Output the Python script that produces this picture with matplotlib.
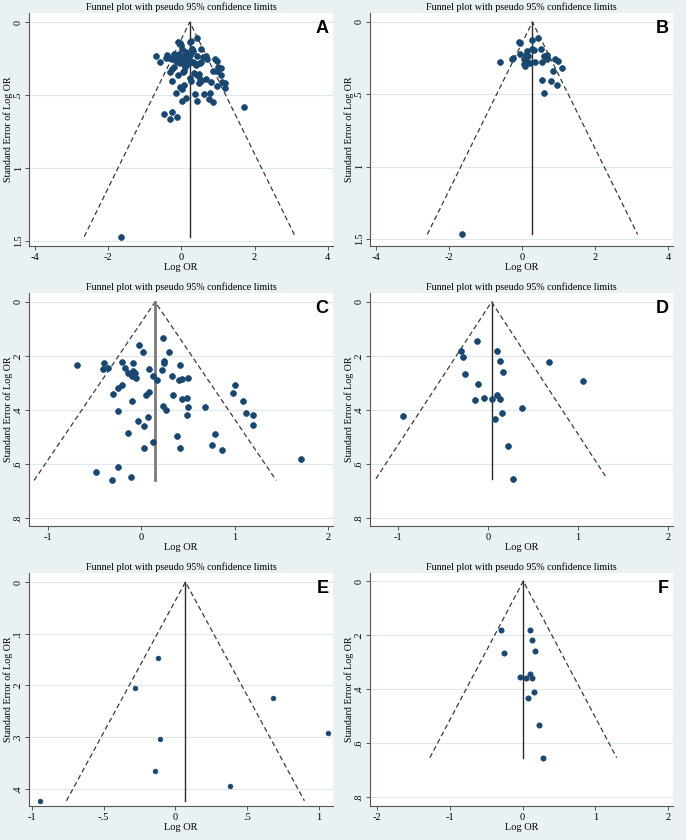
import numpy as np
import matplotlib
matplotlib.use('Agg')
import matplotlib.pyplot as plt

# ---- data ----
# B: subgroup 1
b_logor = [0.44, 0.27, -0.09, -0.04, 0.53, 0.28, 0.33, 0.13, -0.06, 0.10, 0.16, 0.60, 0.68,
           0.70, -0.23, -0.26, 0.07, 0.54, -0.59, 0.92, 0.98, 0.07, 0.09, 0.21, 0.14, 0.35,
           1.09, 0.86, 0.54, 0.81, 0.96, 0.61, -1.64]
b_se = [0.11, 0.127, 0.14, 0.145, 0.186, 0.186, 0.195, 0.204, 0.22, 0.227, 0.237, 0.237, 0.23,
        0.255, 0.248, 0.255, 0.255, 0.276, 0.276, 0.253, 0.269, 0.29, 0.305, 0.283, 0.276, 0.28,
        0.317, 0.338, 0.404, 0.41, 0.436, 0.494, 1.47]

# C: subgroup 2
c_logor = [-0.69, -0.40, -0.41, -0.35, -0.20, -0.17, -0.14, -0.10, -0.09, -0.09, -0.07, -0.05,
           -0.02, 0.02, 0.08, 0.13, 0.17, 0.23, 0.30, 0.22, 0.24, 0.24, 0.33, 0.42, 0.41, 0.44,
           0.50, -0.30, -0.25, -0.20, 0.08, 0.05, 0.34, -0.10, 0.44, 0.49, 0.50, 0.23, 0.27,
           -0.25, 0.68, 0.07, 0.49, -0.03, 0.03, -0.14, 0.38, 0.13, 0.03, 0.42, 0.79, 0.76,
           0.87, 0.98, 1.01, 1.09, 1.12, 1.20, 1.20, 1.71, -0.48, -0.25, -0.31, -0.11]
c_se = [0.233, 0.227, 0.249, 0.246, 0.221, 0.246, 0.265, 0.275, 0.227, 0.256, 0.262, 0.283,
        0.16, 0.186, 0.249, 0.276, 0.29, 0.134, 0.186, 0.252, 0.225, 0.219, 0.273, 0.233, 0.291,
        0.285, 0.283, 0.34, 0.319, 0.308, 0.332, 0.345, 0.346, 0.366, 0.361, 0.355, 0.391, 0.386,
        0.402, 0.403, 0.389, 0.428, 0.42, 0.442, 0.458, 0.484, 0.496, 0.518, 0.542, 0.54, 0.488,
        0.53, 0.549, 0.338, 0.308, 0.366, 0.41, 0.418, 0.455, 0.582, 0.63, 0.613, 0.661, 0.647]

# E: subgroup 3
e_logor = [-0.12, -0.28, 0.68, 1.06, -0.11, -0.14, 0.38, -0.94]
e_se = [0.146, 0.204, 0.224, 0.292, 0.303, 0.365, 0.394, 0.423]

# F: subgroup 4
f_logor = [-0.30, 0.10, 0.13, 0.17, -0.26, 0.10, -0.04, 0.05, 0.13, 0.16, 0.08, 0.22, 0.28]
f_se = [0.182, 0.182, 0.218, 0.261, 0.266, 0.343, 0.355, 0.358, 0.359, 0.413, 0.432, 0.533, 0.655]

# pooled estimates (vertical line positions)
pooled = {'A': 0.23, 'B': 0.29, 'C': 0.15, 'D': 0.04, 'E': 0.07, 'F': 0.01}

navy = '#1a476f'
bg = '#e9f1f3'
grid_c = '#dce8ec'
serif = ['Liberation Serif', 'DejaVu Serif']

fig = plt.figure(figsize=(6.86, 8.4), dpi=100)
fig.patch.set_facecolor(bg)
W, H = 686.0, 840.0


def funnel(col, row, letter, x, se, theta, xlim, ylim, xticks, xlabels, yticks, ylabels,
           msize=4.2, vcol='#2b2b2b', vlw=1.0):
    x0 = col * 343 + (29 if col == 0 else 27)
    x1 = col * 343 + (333 if col == 0 else 330)
    y0 = row * 280 + 13
    y1 = row * 280 + 246
    ax = fig.add_axes([x0 / W, 1 - y1 / H, (x1 - x0) / W, (y1 - y0) / H])
    ax.set_facecolor('white')
    for s in ['top', 'right']:
        ax.spines[s].set_visible(False)
    for s in ['left', 'bottom']:
        ax.spines[s].set_color('#555555')
        ax.spines[s].set_linewidth(0.8)
    for yt in yticks:
        ax.axhline(yt, color=grid_c, lw=0.8, zorder=0)

    semax = max(se)
    ax.plot([theta - 1.96 * semax, theta, theta + 1.96 * semax], [semax, 0, semax],
            color='#3a3a3a', lw=0.9, dashes=(4, 2.5), zorder=2)
    ax.plot([theta, theta], [0, semax], color=vcol, lw=vlw, zorder=2)
    ax.plot(x, se, 'o', color=navy, ms=msize, mec=navy, mew=0.5, zorder=3)

    ax.set_xlim(xlim)
    ax.set_ylim(ylim)
    ax.set_xticks(xticks)
    ax.set_xticklabels(xlabels, family=serif, fontsize=7.5)
    ax.set_yticks(yticks)
    ax.set_yticklabels(ylabels, family=serif, fontsize=7.2, rotation=90, va='center')
    ax.tick_params(length=3, width=0.7, color='#555555', pad=2)
    ax.tick_params(axis='y', pad=1.5)
    ax.set_xlabel('Log OR', family=serif, fontsize=7.5, labelpad=1)
    ax.set_ylabel('Standard Error of Log OR', family=serif, fontsize=7.2, va='center')
    lab_x = 8 if col == 0 else 6
    ax.yaxis.set_label_coords((col * 343 + lab_x - x0) / (x1 - x0), 0.5)
    ax.set_title('Funnel plot with pseudo 95% confidence limits', family=serif,
                 fontsize=7.2, pad=2)
    ax.text(0.985, 0.97, letter, transform=ax.transAxes, ha='right', va='top',
            fontsize=13, fontweight='bold', family='Liberation Sans')
    return ax


a_logor = b_logor + c_logor
a_se = b_se + c_se
d_logor = e_logor + f_logor
d_se = e_se + f_se

big_x = [-4, -2, 0, 2, 4]
big_xl = ['-4', '-2', '0', '2', '4']
big_y = [0, 0.5, 1, 1.5]
big_yl = ['0', '.5', '1', '1.5']
mid_y = [0, 0.2, 0.4, 0.6, 0.8]
mid_yl = ['0', '.2', '.4', '.6', '.8']

funnel(0, 0, 'A', a_logor, a_se, pooled['A'], (-4.16, 4.14), (1.534, -0.062),
       big_x, big_xl, big_y, big_yl)
funnel(1, 0, 'B', b_logor, b_se, pooled['B'], (-4.16, 4.14), (1.55, -0.062),
       big_x, big_xl, big_y, big_yl)
funnel(0, 1, 'C', c_logor, c_se, pooled['C'], (-1.2, 2.054), (0.83, -0.033),
       [-1, 0, 1, 2], ['-1', '0', '1', '2'], mid_y, mid_yl, vcol='#7a7a7a', vlw=2.0)
funnel(1, 1, 'D', d_logor, d_se, pooled['D'], (-1.31, 2.055), (0.83, -0.033),
       [-1, 0, 1, 2], ['-1', '0', '1', '2'], mid_y, mid_yl)
funnel(0, 2, 'E', e_logor, e_se, pooled['E'], (-1.02, 1.098), (0.433, -0.0175),
       [-1, -0.5, 0, 0.5, 1], ['-1', '-.5', '0', '.5', '1'],
       [0, 0.1, 0.2, 0.3, 0.4], ['0', '.1', '.2', '.3', '.4'], msize=3.4)
funnel(1, 2, 'F', f_logor, f_se, pooled['F'], (-2.096, 2.068), (0.834, -0.03),
       [-2, -1, 0, 1, 2], ['-2', '-1', '0', '1', '2'], mid_y, mid_yl, msize=3.8)

fig.savefig('out.png', dpi=100, facecolor=bg)
